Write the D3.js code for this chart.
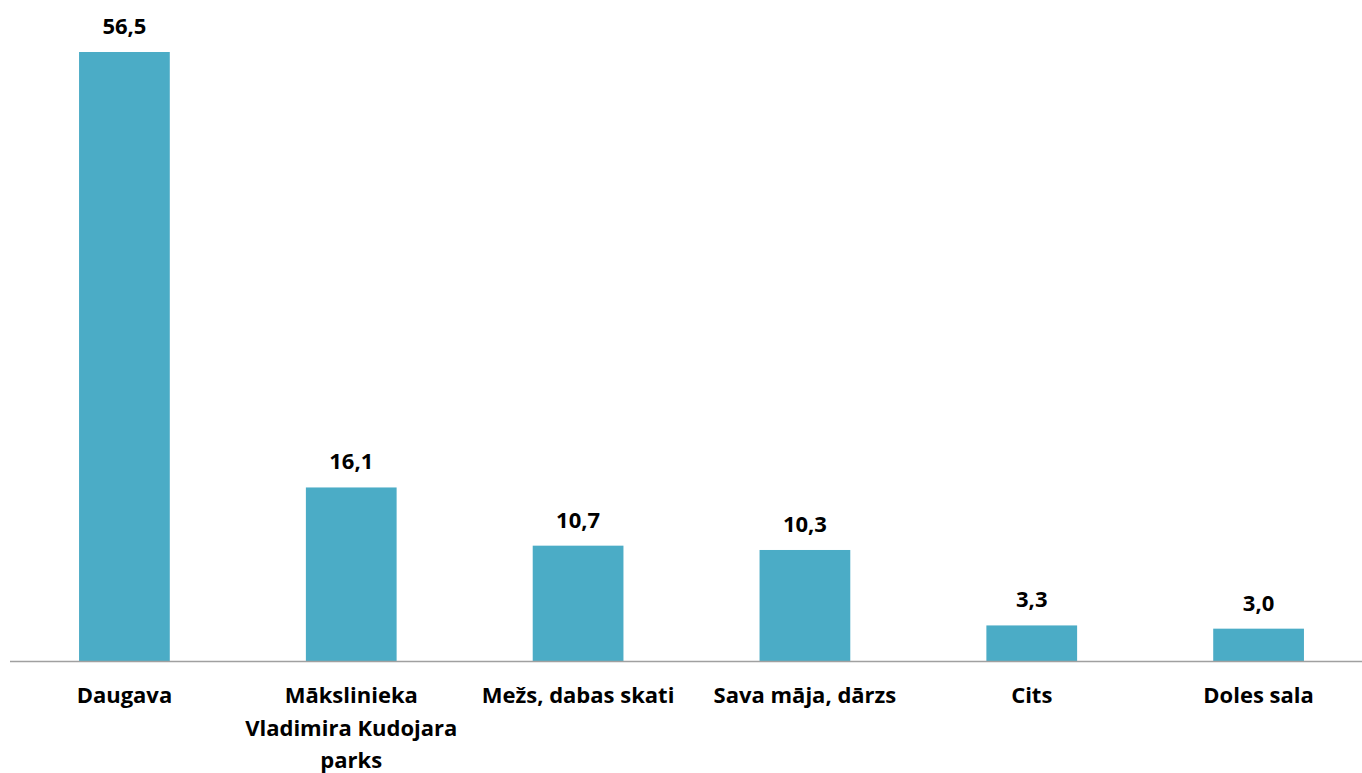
<!DOCTYPE html>
<html>
<head>
<meta charset="utf-8">
<script src="https://cdn.jsdelivr.net/npm/d3@7"></script>
<style>
  body { margin: 0; background: #fff; }
  text { font-family: "Open Sans", Lato, sans-serif; font-weight: bold; fill: #000; }
</style>
</head>
<body>
<div id="chart"></div>
<script>
var categories = ["Daugava", "Mākslinieka Vladimira Kudojara parks", "Mežs, dabas skati", "Sava māja, dārzs", "Cits", "Doles sala"];
var values = [56.5, 16.1, 10.7, 10.3, 3.3, 3.0];

var width = 1362,
    height = 773,
    margin = { top: 52, right: -10, bottom: 112, left: 11 };

var svg = d3.select('#chart').append('svg')
    .attr('width', width)
    .attr('height', height);

var x = d3.scaleBand()
    .domain(categories)
    .range([margin.left, width - margin.right])
    .paddingInner(0.6)
    .paddingOuter(0.3);

var y = d3.scaleLinear()
    .domain([0, 56.5])
    .range([height - margin.bottom, margin.top]);

var data = categories.map(function(c, i) { return { name: c, value: values[i] }; });

// bars
svg.append('g').selectAll('rect')
    .data(data)
    .enter().append('rect')
    .attr('x', function(d) { return x(d.name); })
    .attr('y', function(d) { return y(d.value); })
    .attr('width', x.bandwidth())
    .attr('height', function(d) { return y(0) - y(d.value); })
    .attr('fill', '#4bacc6');

// value labels
svg.append('g').selectAll('text')
    .data(data)
    .enter().append('text')
    .attr('x', function(d) { return x(d.name) + x.bandwidth() / 2; })
    .attr('y', function(d) { return y(d.value) - 18; })
    .attr('text-anchor', 'middle')
    .style('font-size', '22px')
    .text(function(d) { return d3.format('.1f')(d.value).replace('.', ','); });

// axis line
svg.append('line')
    .attr('x1', 10).attr('x2', width)
    .attr('y1', y(0) + 0.5).attr('y2', y(0) + 0.5)
    .attr('stroke', '#a0a0a0')
    .attr('stroke-width', 1.3);

// category labels, wrapped
svg.append('g').selectAll('text')
    .data(data)
    .enter().append('text')
    .attr('text-anchor', 'middle')
    .attr('y', y(0) + 42)
    .style('font-size', '22px')
    .each(function(d) {
        var t = d3.select(this),
            cx = x(d.name) + x.bandwidth() / 2,
            words = d.name.split(' '),
            line = [],
            span = t.append('tspan').attr('x', cx);
        words.forEach(function(w) {
            line.push(w);
            span.text(line.join(' '));
            if (span.node().getComputedTextLength() > 225 && line.length > 1) {
                line.pop();
                span.text(line.join(' '));
                line = [w];
                span = t.append('tspan').attr('x', cx).attr('dy', '1.48em').text(w);
            }
        });
    });
</script>
</body>
</html>
